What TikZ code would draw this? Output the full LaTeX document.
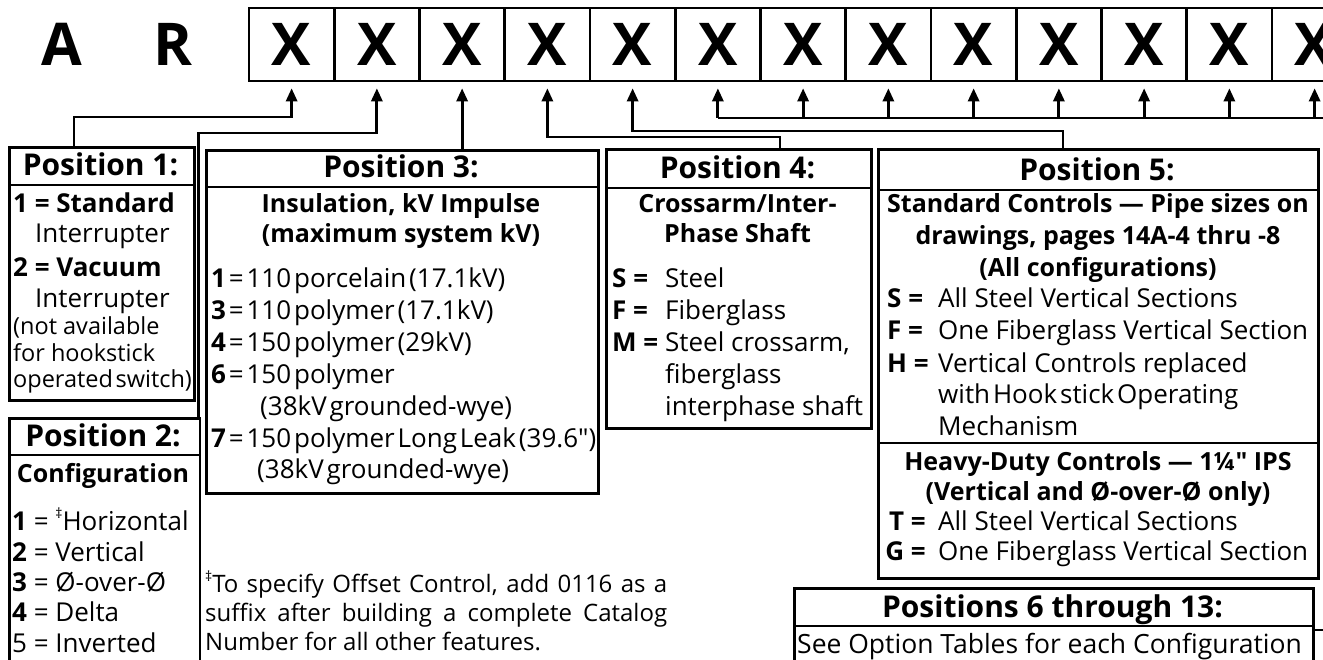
\documentclass[tikz,border=0pt]{standalone}
\usepackage{fontspec}
\setmainfont{Open Sans}[Ligatures=TeXOff]
\usetikzlibrary{arrows.meta}
\newcommand\dagmark{\raisebox{0.45em}{\fontsize{14}{14}\selectfont ‡}}
\newcommand\tightsp{\spaceskip=0.11em\relax}

\begin{document}
\begin{tikzpicture}[x=1pt,y=-1pt,
  cellbox/.style={draw,line width=2.6pt,minimum width=85.25pt,minimum height=73pt,inner sep=0pt,font=\fontsize{59}{59}\selectfont\bfseries},
  lettertxt/.style={inner sep=0pt,font=\fontsize{59}{59}\selectfont\bfseries},
  posbox/.style={draw,line width=2.6pt,anchor=north west,inner sep=0pt},
  rule/.style={line width=2.6pt},
  conn/.style={line width=2.8pt,-{Triangle[width=11pt,length=13pt]},shorten >=6pt},
  wire/.style={line width=2.8pt},
  headtxt/.style={anchor=base,inner sep=0pt,font=\fontsize{30}{30}\selectfont\bfseries},
  subtxt/.style={anchor=base,inner sep=0pt,font=\fontsize{25}{25}\selectfont\bfseries},
  bodytxt/.style={anchor=base west,inner sep=0pt,font=\fontsize{26}{26}\selectfont},
  smalltxt/.style={bodytxt,font=\fontsize{23.5}{23.5}\selectfont},
  notetxt/.style={bodytxt,font=\fontsize{24}{24}\selectfont}]
  \useasboundingbox (0,0) rectangle (1323,660);
  \fill[white] (0,0) rectangle (1323,660);

  % catalog number cells
  \node[lettertxt] (la) at (62,44.5) {A};
  \node[lettertxt] (lr) at (173,44.5) {R};
  \foreach \i in {1,...,13}
    \node[cellbox] (c\i) at ({249+85.25*(\i-0.5)},44.5) {X};

  % option boxes
  \node[posbox,minimum width=185pt,minimum height=253pt] (p1) at (8,146) {};
  \node[posbox,minimum width=190.5pt,minimum height=270pt] (p2) at (8,417) {};
  \node[posbox,minimum width=392pt,minimum height=343pt] (p3) at (205,149) {};
  \node[posbox,minimum width=265pt,minimum height=279pt] (p4) at (605,148) {};
  \node[posbox,minimum width=440pt,minimum height=429pt] (p5) at (877,148) {};
  \node[posbox,minimum width=519pt,minimum height=100pt] (p6) at (793,587) {};
  \draw[rule] (8,185) -- (193,185);
  \draw[rule] (8,455) -- (198.5,455);
  \draw[rule] (205,187) -- (597,187);
  \draw[rule] (605,188) -- (870,188);
  \draw[rule] (877,190) -- (1317,190);
  \draw[rule] (877,443) -- (1317,443);
  \draw[rule] (793,626) -- (1312,626);

  % connectors
  \coordinate (j1) at (74,117);
  \coordinate (j2) at (198.5,133);
  \coordinate (j4) at (780,137);
  \coordinate (j5) at (1063,131);
  \coordinate (j6) at (1345,118);
  \coordinate (j7) at (1345,630);
  \draw[conn] (p1.north -| j1) -- (j1) -| (c1.south);
  \draw[conn] (p2.north -| j2) -- (j2) -| (c2.south);
  \draw[conn] (p3.north -| c3.south) -- (c3.south);
  \draw[conn] (p4.north -| j4) -- (j4) -| (c4.south);
  \draw[conn] (p5.north -| j5) -- (j5) -| (c5.south);
  \draw[wire] (p6.east |- j7) -- (j7) -- (j6) -- (c6.south |- j6);
  \foreach \i in {6,...,13}
    \draw[conn] (c\i.south |- j6) -- (c\i.south);

  % headings
  \node[headtxt] (h1) at (100.5,176) {Position 1:};
  \node[headtxt] (h2) at (103,446) {Position 2:};
  \node[headtxt] (h3) at (401,178) {Position 3:};
  \node[headtxt] (h4) at (737.5,179) {Position 4:};
  \node[headtxt] (h5) at (1097,181) {Position 5:};
  \node[headtxt] (h6) at (1052.5,617) {Positions 6 through 13:};
  \node[subtxt] (s2) at (103,482) {Configuration};
  \node[subtxt] (s3a) at (401,213) {Insulation, kV Impulse};
  \node[subtxt] (s3b) at (401,243) {(maximum system kV)};
  \node[subtxt] (s4a) at (737.5,213) {Crossarm/Inter-};
  \node[subtxt] (s4b) at (737.5,243) {Phase Shaft};
  \node[subtxt] (s5a) at (1098,213) {Standard Controls — Pipe sizes on};
  \node[subtxt] (s5b) at (1098,245) {drawings, pages 14A-4 thru -8};
  \node[subtxt] (s5c) at (1098,277) {(All configurations)};
  \node[subtxt] (s5d) at (1098,470) {Heavy-Duty Controls — 1¼" IPS};
  \node[subtxt] (s5e) at (1098,500) {(Vertical and Ø-over-Ø only)};

  % position 1
  \foreach \x/\y/\t [count=\i] in {13/213/{\bfseries 1 = Standard}, 35/243/Interrupter,
      13/277/{\bfseries 2 = Vacuum}, 35/308/Interrupter}
    \node[bodytxt] (a\i) at (\x,\y) {\t};
  \node[smalltxt] (b1) at (13,335) {(not available};
  \node[smalltxt] (b2) at (13,362) {for hookstick};
  \node[smalltxt] (b3) at (13,388) {\tightsp operated switch)};

  % position 2
  \foreach \y/\t [count=\i] in {530/{{\bfseries 1} = \dagmark Horizontal}, 561/{{\bfseries 2} = Vertical},
      591/{{\bfseries 3} = Ø-over-Ø}, 621/{{\bfseries 4} = Delta}, 652/{5 = Inverted}}
    \node[bodytxt] (d\i) at (12,\y) {\t};

  % position 3
  \foreach \x/\y/\t [count=\i] in {
      211/288/{{\bfseries 1} = 110 porcelain (17.1kV)},
      211/320/{{\bfseries 3} = 110 polymer (17.1kV)},
      211/352/{{\bfseries 4} = 150 polymer (29kV)},
      211/383/{{\bfseries 6} = 150 polymer},
      260/415/{(38kV grounded-wye)},
      211/447/{{\bfseries 7} = 150 polymer Long Leak (39.6")},
      257/478/{(38kV grounded-wye)}}
    \node[bodytxt] (e\i) at (\x,\y) {\tightsp\t};

  % position 4
  \foreach \k/\y/\t in {S/288/Steel, F/320/Fiberglass, M/352/{Steel crossarm,}} {
    \node[bodytxt] (m\k) at (612,\y) {\bfseries\k\ =};
    \node[bodytxt] (f\k) at (665,\y) {\t};
  }
  \node[bodytxt] (f4) at (665,383) {fiberglass};
  \node[bodytxt] (f5) at (665,415) {interphase shaft};

  % position 5
  \foreach \k/\y/\t in {S/308/All Steel Vertical Sections, F/340/One Fiberglass Vertical Section,
      H/372/Vertical Controls replaced} {
    \node[bodytxt] (n\k) at (887,\y) {\bfseries\k\ =};
    \node[bodytxt] (g\k) at (938,\y) {\t};
  }
  \foreach \k/\y/\t in {T/530/All Steel Vertical Sections, G/560/One Fiberglass Vertical Section} {
    \node[bodytxt,anchor=base east] (n\k) at (926,\y) {\bfseries\k\ =};
    \node[bodytxt] (g\k) at (938,\y) {\t};
  }
  \node[bodytxt] (g1) at (938,403) {\tightsp with Hook stick Operating};
  \node[bodytxt] (g2) at (938,435) {Mechanism};

  % positions 6 through 13
  \node[bodytxt,font=\fontsize{26.5}{26.5}\selectfont] (o1) at (797,653) {See Option Tables for each Configuration};

  % footnote
  \node[notetxt] (r1) at (205,592) {\makebox[462pt][s]{\dagmark To specify Offset Control, add 0116 as a}};
  \node[notetxt] (r2) at (205,621) {\makebox[462pt][s]{suffix after building a complete Catalog}};
  \node[notetxt] (r3) at (205,650) {Number for all other features.};
\end{tikzpicture}
\end{document}
